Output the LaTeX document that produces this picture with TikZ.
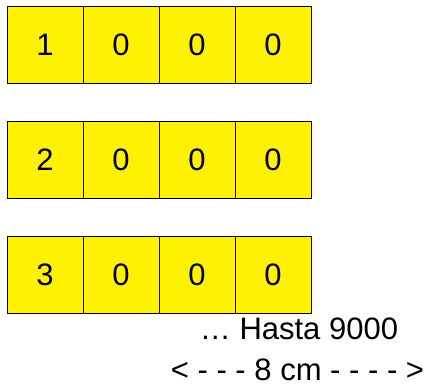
\documentclass[tikz,border=0pt]{standalone}
\usepackage{fontspec}
\setmainfont{Liberation Sans}
\usepackage{tikz}
\usetikzlibrary{positioning}
\tikzset{cell/.style = {draw, line width = 1pt, fill = yellow, inner sep = 0,
                        minimum width = 76, minimum height = 77,
                        font = \fontsize{31}{37}\selectfont}}
\tikzset{note/.style = {anchor = base, font = \fontsize{31}{37}\selectfont}}

\begin{document}
\begin{tikzpicture}[x = 1pt, y = -1pt]
    \useasboundingbox (0, 0) rectangle (429, 386);

    \foreach \r/\y in {1/44.5, 2/159.5, 3/274.5} {
        \node [cell] (c\r1) at (45, \y) {\r};
        \foreach \c/\x in {2/121, 3/197, 4/273}
            \node [cell] (c\r\c) at (\x, \y) {0};
    }

    \node [note] (hasta) at (299, 339) {… Hasta 9000};
    \node [note] (ancho) at (297.5, 380) {< - - - 8 cm - - - - >};
  \end{tikzpicture}
\end{document}
